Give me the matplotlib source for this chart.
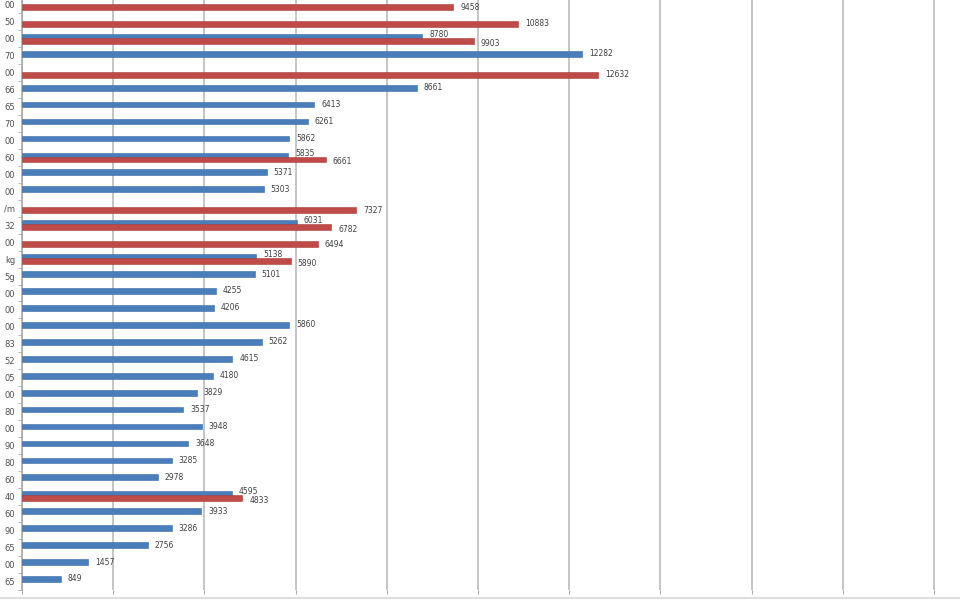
import matplotlib
matplotlib.use("Agg")
import matplotlib.pyplot as plt
import numpy as np

# обрезанные подписи категорий (слева видны только хвосты)
labels = ["00", "50", "00", "70", "00", "66", "65", "70", "00", "60", "00", "00",
          "/m", "32", "00", "kg", "5g", "00", "00", "00", "83", "52", "05", "00",
          "80", "00", "90", "80", "60", "40", "60", "90", "65", "00", "65"]

# синяя серия (None - бара нет)
blue = [None, None, 8780, 12282, None, 8661, 6413, 6261, 5862, 5835, 5371, 5303,
        None, 6031, None, 5138, 5101, 4255, 4206, 5860, 5262, 4615, 4180, 3829,
        3537, 3948, 3648, 3285, 2978, 4595, 3933, 3286, 2756, 1457, 849]

# красная серия
red = [9458, 10883, 9903, None, 12632, None, None, None, None, 6661, None, None,
       7327, 6782, 6494, 5890, None, None, None, None, None, None, None, None,
       None, None, None, None, None, 4833, None, None, None, None, None]

BLUE = "#4A7EBB"
RED = "#BE4B48"

fig = plt.figure(figsize=(9.6, 6), dpi=100)
ax = fig.add_axes([22 / 960, 10.5 / 600, 938 / 960, 593 / 600])

n = len(labels)
y = np.arange(n)
h = 0.34
off = 0.12

for i in range(n):
    b, r = blue[i], red[i]
    pair = b is not None and r is not None
    shift = 0.14 if pair else 0.0
    if b is not None:
        yy = i - off
        ax.barh(yy, b, height=h, color=BLUE, edgecolor="#3A6BA5", linewidth=0.4, zorder=3)
        # подпись синего бара может уходить под красный, как в оригинале
        ax.text(b + 150, yy - shift, str(b), va="center", ha="left", fontsize=5.5,
                color="#404040", zorder=3.5)
    if r is not None:
        yy = i + off
        ax.barh(yy, r, height=h, color=RED, edgecolor="#A83E3B", linewidth=0.4, zorder=4)
        ax.text(r + 150, yy + shift, str(r), va="center", ha="left", fontsize=5.5,
                color="#404040", zorder=5)

ax.set_ylim(n - 0.5, -0.5)
ax.set_xlim(0, 20570)

ax.set_xticks(np.arange(0, 20001, 2000))
ax.set_xticklabels([])
ax.tick_params(axis="x", length=3, color="#AAAAAA", direction="out")
ax.grid(axis="x", color="#BBBBBB", linewidth=1.2, zorder=0)

ax.set_yticks(y)
ax.set_yticklabels(labels, fontsize=6, color="#505050")
ax.tick_params(axis="y", length=0, pad=5)
ax.set_yticks(np.arange(-0.5, n, 1), minor=True)
ax.tick_params(axis="y", which="minor", length=3, color="#AAAAAA")

for s in ["top", "right", "bottom"]:
    ax.spines[s].set_visible(False)
ax.spines["left"].set_color("#AAAAAA")
ax.spines["left"].set_linewidth(1.2)

# светлая рамка снизу
fig.add_artist(plt.Line2D([0, 1], [2 / 600, 2 / 600], color="#DDDDDD", linewidth=1.5))

fig.savefig("out.png", dpi=100)
plt.close(fig)
